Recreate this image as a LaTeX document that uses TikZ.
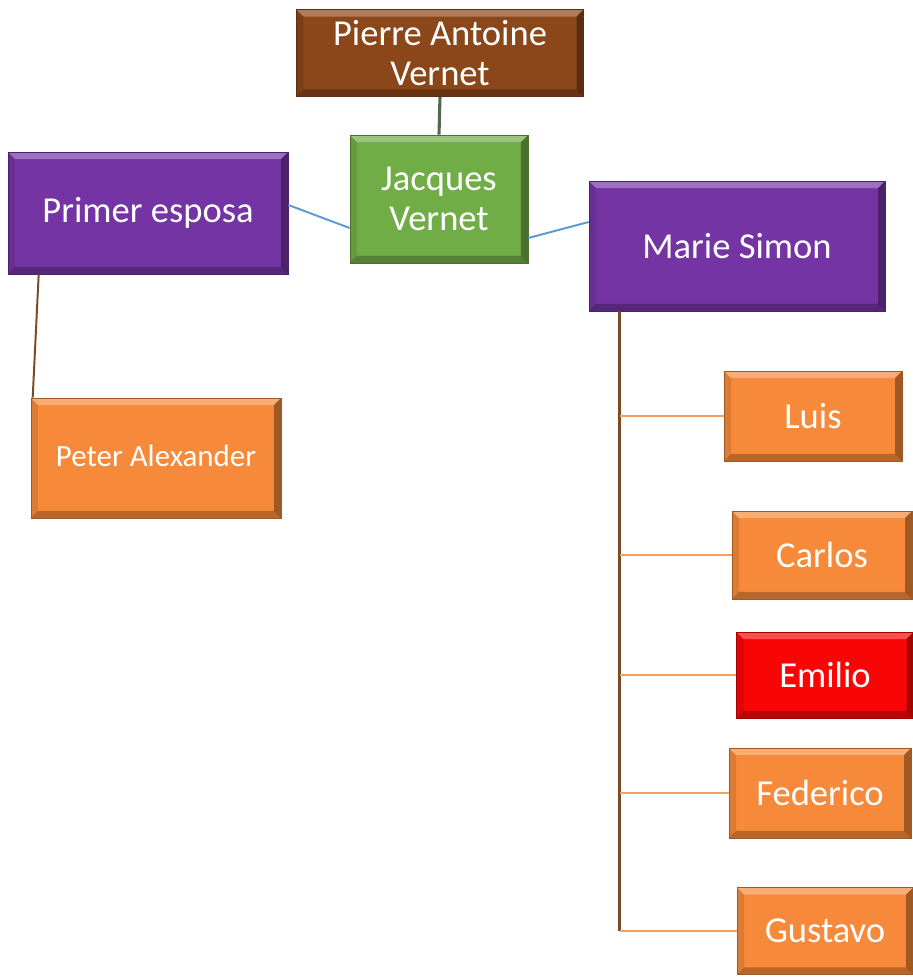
\documentclass[tikz,border=0pt]{standalone}
\usepackage{fontspec}
\setmainfont{Carlito}
\definecolor{boxbrown}{HTML}{8B4619}
\definecolor{boxgreen}{HTML}{70AD47}
\definecolor{boxpurple}{HTML}{7434A4}
\definecolor{boxorange}{HTML}{F68A3A}
\definecolor{boxred}{HTML}{FA0505}
\definecolor{lineblue}{HTML}{5B9BD5}
\definecolor{linebrown}{HTML}{7A4A26}
\definecolor{lineorange}{HTML}{F2A066}
\definecolor{linegreen}{HTML}{4D6B4A}
\begin{document}
\begin{tikzpicture}
  [
    x=0.025cm, y=-0.025cm,
    bevel/.style={path picture={
      \fill [white, opacity=.3] (path picture bounding box.north west) -- (path picture bounding box.north east)
        -- ([shift={(-5pt,-5pt)}]path picture bounding box.north east) -- ([shift={(5pt,-5pt)}]path picture bounding box.north west) -- cycle;
      \fill [black, opacity=.25] (path picture bounding box.south west) -- (path picture bounding box.south east)
        -- ([shift={(-5pt,5pt)}]path picture bounding box.south east) -- ([shift={(5pt,5pt)}]path picture bounding box.south west) -- cycle;
      \fill [black, opacity=.35] (path picture bounding box.south east) -- (path picture bounding box.north east)
        -- ([shift={(-5pt,-5pt)}]path picture bounding box.north east) -- ([shift={(-5pt,5pt)}]path picture bounding box.south east) -- cycle;
      \fill [black, opacity=.1] (path picture bounding box.south west) -- (path picture bounding box.north west)
        -- ([shift={(5pt,-5pt)}]path picture bounding box.north west) -- ([shift={(5pt,5pt)}]path picture bounding box.south west) -- cycle;
    }},
    person/.style={rectangle, draw=#1!65!black, fill=#1, text=white, align=center,
      inner sep=2pt, font=\fontsize{26}{28.5}\selectfont, bevel},
    link/.style={#1, line width=1.4pt},
  ]
    \useasboundingbox (0,0) rectangle (913,979);

    % parents
    \node [person=boxbrown, minimum width=7.175cm, minimum height=2.175cm] (pierre) at (440,53) {Pierre Antoine\\Vernet};
    \node [person=boxgreen, minimum width=4.45cm, minimum height=3.2cm] (jacques) at (439,199) {Jacques\\Vernet};
    \node [person=boxpurple, minimum width=7cm, minimum height=3.05cm] (primer) at (148,213) {Primer esposa};
    \node [person=boxpurple, minimum width=7.4cm, minimum height=3.25cm] (marie) at (737,246) {Marie Simon};
    \node [person=boxorange, minimum width=6.25cm, minimum height=3cm, font=\fontsize{22}{24}\selectfont] (peter) at (156,458) {Peter Alexander\vphantom{g}};

    % children
    \foreach \name/\col/\x/\y/\w/\h in {Luis/boxorange/813/416/4.45/2.25, Carlos/boxorange/822/555/4.5/2.2,
      Emilio/boxred/825/675/4.425/2.15, Federico/boxorange/820/793/4.55/2.25, Gustavo/boxorange/825/931/4.4/2.175} {
      \node [person=\col, minimum width=\w cm, minimum height=\h cm] (\name) at (\x,\y) {\name};
    }

    % lines
    \draw [link=linegreen, line width=2.2pt] (pierre.south) -- (jacques.north);
    \draw [link=lineblue] ([yshift=0.2cm]primer.east) -- ([yshift=-0.725cm]jacques.west);
    \draw [link=lineblue] ([yshift=-0.975cm]jacques.east) -- ([yshift=0.6cm]marie.west);
    \draw [link=linebrown] ([xshift=0.775cm]primer.south west) -- ([xshift=0.05cm]peter.north west);
    \coordinate (trunk) at ([xshift=0.775cm]marie.south west);
    \draw [link=linebrown, line width=1.8pt] (trunk) -- (trunk |- Gustavo.west);
    \foreach \name in {Luis,Carlos,Emilio,Federico,Gustavo} {
      \draw [link=lineorange] (trunk |- \name.west) -- (\name.west);
    }
  \end{tikzpicture}
\end{document}
